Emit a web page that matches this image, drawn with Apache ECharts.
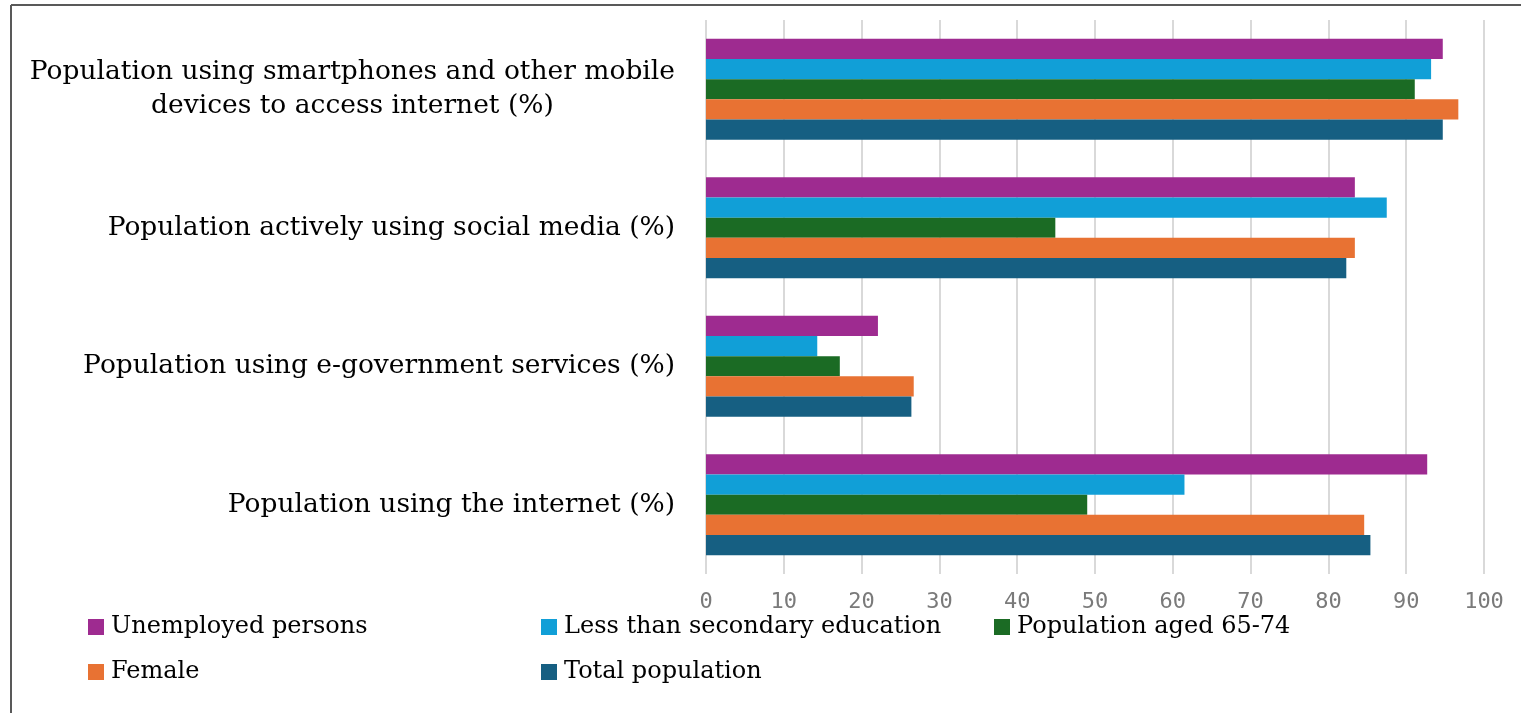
<!DOCTYPE html>
<html>
<head>
<meta charset="utf-8">
<script src="https://cdn.jsdelivr.net/npm/echarts@6/dist/echarts.min.js"></script>
<style>
  html, body { margin: 0; padding: 0; background: #fff; }
  #chart { width: 1521px; height: 713px; }
</style>
</head>
<body>
<div id="chart"></div>
<script>
// categories, bottom to top (as ECharts draws a category y axis)
const categories = [
  'Population using the internet (%)',
  'Population using e-government services (%)',
  'Population actively using social media (%)',
  'Population using smartphones and other mobile\ndevices to access internet (%)'
];

const unemployed = [92.7, 22.1, 83.4, 94.7];
const lessSecondary = [61.5, 14.3, 87.5, 93.2];
const aged6574 = [49.0, 17.2, 44.9, 91.1];
const female = [84.6, 26.7, 83.4, 96.7];
const totalPop = [85.4, 26.4, 82.3, 94.7];

const xTicks = [0, 10, 20, 30, 40, 50, 60, 70, 80, 90, 100];

const seriesNames = ['Unemployed persons', 'Less than secondary education', 'Population aged 65-74', 'Female', 'Total population'];
const seriesColors = ['#9e2b90', '#119fd7', '#1b6b24', '#e87233', '#165f82'];
const seriesData = [unemployed, lessSecondary, aged6574, female, totalPop];

const serif = '"DejaVu Serif", "Liberation Serif", serif';

const chart = echarts.init(document.getElementById('chart'));

const series = seriesNames.map((n, i) => ({
  name: n,
  type: 'bar',
  barGap: 0,
  barCategoryGap: '27%',
  itemStyle: { color: seriesColors[i] },
  data: seriesData[i]
}));

// one legend per item so the columns line up like the original
const legendPos = [
  { left: 83, top: 610 }, { left: 536, top: 610 }, { left: 989, top: 610 },
  { left: 83, top: 655 }, { left: 536, top: 655 }
];
const legends = seriesNames.map((n, i) => ({
  data: [n],
  left: legendPos[i].left,
  top: legendPos[i].top,
  itemWidth: 16,
  itemHeight: 16,
  icon: 'rect',
  selectedMode: false,
  textStyle: { fontFamily: serif, fontSize: 24, color: '#000', padding: [0, 0, 0, 2] }
}));

chart.setOption({
  animation: false,
  backgroundColor: '#fff',
  legend: legends,
  grid: { left: 706, right: 37, top: 20, bottom: 139, containLabel: false },
  xAxis: {
    type: 'value',
    min: 0,
    max: 100,
    interval: 10,
    axisLine: { show: false },
    axisTick: { show: false },
    splitLine: { lineStyle: { color: '#d9d9d9', width: 2 } },
    axisLabel: {
      margin: 17,
      color: '#7a7a7a',
      fontFamily: '"DejaVu Sans Mono", monospace',
      fontSize: 22,
      formatter: v => xTicks.includes(v) ? String(v) : ''
    }
  },
  yAxis: {
    type: 'category',
    data: categories,
    axisLine: { show: false },
    axisTick: { show: false },
    axisLabel: {
      margin: 31,
      color: '#000',
      fontFamily: serif,
      fontSize: 26,
      lineHeight: 34,
      formatter: v => v.split('\n').map(s => '{c|' + s + '}').join('\n'),
      rich: {
        c: { fontFamily: serif, fontSize: 26.5, lineHeight: 34, color: '#000', align: 'center' }
      }
    }
  },
  series: series,
  graphic: [
    { type: 'line', shape: { x1: 11, y1: 5, x2: 1521, y2: 5 }, style: { stroke: '#595959', lineWidth: 2 } },
    { type: 'line', shape: { x1: 11, y1: 5, x2: 11, y2: 713 }, style: { stroke: '#595959', lineWidth: 2 } }
  ]
});
</script>
</body>
</html>
